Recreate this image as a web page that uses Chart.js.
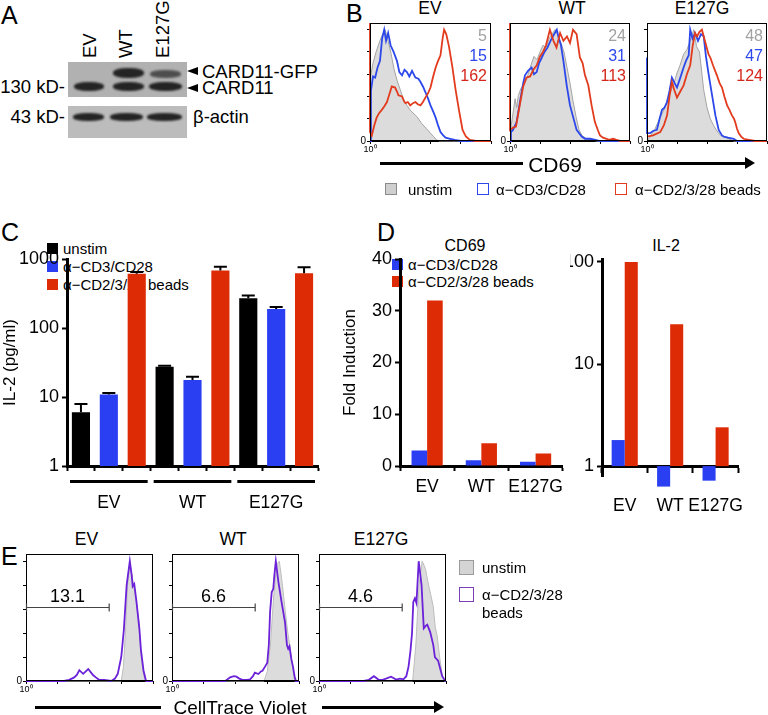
<!DOCTYPE html>
<html>
<head>
<meta charset="utf-8">
<script src="https://cdn.jsdelivr.net/npm/chart.js@4.4.1/dist/chart.umd.min.js"></script>
<style>
  html, body { margin: 0; padding: 0; background: #fff; }
  #fig { position: relative; width: 768px; height: 715px; overflow: hidden;
         font-family: "Liberation Sans", Arial, Helvetica, sans-serif; color: #000; }
  #fig div, #fig canvas { position: absolute; }
  .t { line-height: 1; white-space: nowrap; }
  .band { background: #242424; border-radius: 45%; filter: blur(1.3px); }
</style>
</head>
<body>
<div id="fig"></div>
<script>
const FONT = '"Liberation Sans", Arial, Helvetica, sans-serif';
Chart.defaults.font.family = FONT;
Chart.defaults.color = '#000';

const BLUE = '#2b3ff2';
const RED = '#dd2b05';
const FLOW_BLUE = '#2c48ea';
const FLOW_RED = '#e23b1d';
const PURPLE = '#6b22d8';
const GRAY_FILL = '#dcdcdc';
const GRAY_LINE = '#a4a4a4';

// ---------- data ----------
const lanes = ['EV', 'WT', 'E127G'];

// B: CD69 MFI per condition
const mfiUnstim = [5, 24, 48];
const mfiCd3 = [15, 31, 47];
const mfiBeads = [162, 113, 124];

// B: CD69 histograms, [decade above 10^0, % of max]
const cd69EvUnstim = [[0,0],[0.02,58],[0.1,70],[0.2,80],[0.3,88],[0.4,95],[0.5,100],[0.6,90],[0.7,78],[0.8,64],[0.9,54],[1.0,46],[1.1,38],[1.22,32],[1.35,27],[1.55,22],[1.7,16],[1.9,10],[2.0,7],[2.1,4],[2.2,1],[2.3,0],[4,0]];
const cd69EvCd3 = [[0,0],[0.03,45],[0.1,58],[0.17,57],[0.25,66],[0.33,72],[0.4,92],[0.47,100],[0.53,90],[0.6,97],[0.68,86],[0.78,80],[0.89,72],[0.97,62],[1.06,59],[1.14,64],[1.22,62],[1.3,58],[1.39,63],[1.5,57],[1.6,56],[1.67,53],[1.75,49],[1.83,44],[1.92,38],[2.0,32],[2.08,27],[2.17,21],[2.25,14],[2.33,8],[2.42,5],[2.5,3],[2.65,2],[2.8,1],[3.0,0],[4,0]];
const cd69EvBeads = [[0,106],[0,8],[0.06,5],[0.14,14],[0.22,21],[0.3,25],[0.39,28],[0.47,31],[0.56,35],[0.64,42],[0.72,49],[0.83,48],[0.9,44],[0.94,41],[1.06,40],[1.12,36],[1.17,34],[1.25,35],[1.33,32],[1.42,34],[1.5,35],[1.58,33],[1.67,32],[1.75,35],[1.83,39],[1.92,43],[2.0,48],[2.08,57],[2.17,66],[2.25,72],[2.33,77],[2.4,92],[2.45,100],[2.52,96],[2.61,85],[2.72,67],[2.83,46],[2.94,28],[3.06,10],[3.17,4],[3.3,1],[3.5,0],[4,0]];
const cd69WtUnstim = [[0,0],[0.03,12],[0.1,25],[0.17,38],[0.22,30],[0.28,41],[0.36,47],[0.44,50],[0.55,55],[0.67,66],[0.8,76],[0.9,73],[1.0,80],[1.1,86],[1.2,84],[1.3,92],[1.4,96],[1.5,100],[1.6,95],[1.7,88],[1.8,80],[1.9,66],[2.0,52],[2.1,36],[2.2,22],[2.3,10],[2.4,5],[2.55,2],[2.7,1],[2.9,0],[4,0]];
const cd69WtCd3 = [[0,0],[0.03,8],[0.1,10],[0.22,17],[0.33,35],[0.44,52],[0.5,59],[0.6,63],[0.72,66],[0.8,60],[0.89,62],[0.97,70],[1.06,75],[1.15,80],[1.25,84],[1.35,90],[1.45,95],[1.56,100],[1.62,93],[1.7,86],[1.78,72],[1.89,50],[2.0,32],[2.11,21],[2.22,10],[2.39,4],[2.5,2],[2.67,2],[2.85,1],[3.0,0],[4,0]];
const cd69WtBeads = [[0,106],[0,10],[0.1,12],[0.2,13],[0.33,33],[0.44,49],[0.55,57],[0.67,58],[0.78,64],[0.89,68],[1.0,76],[1.1,80],[1.2,86],[1.33,100],[1.45,90],[1.55,84],[1.67,97],[1.78,90],[1.9,94],[2.0,88],[2.1,100],[2.22,96],[2.33,75],[2.42,70],[2.5,59],[2.61,50],[2.72,32],[2.83,17],[2.94,9],[3.0,5],[3.1,3],[3.22,2],[3.3,1],[3.44,2],[3.55,1],[3.7,0],[4,0]];
const cd69E127gUnstim = [[0,0],[0.1,4],[0.25,10],[0.44,21],[0.6,30],[0.67,37],[0.8,45],[0.9,52],[1.0,61],[1.1,68],[1.22,78],[1.33,82],[1.44,90],[1.56,100],[1.65,85],[1.75,80],[1.89,46],[2.0,30],[2.11,20],[2.22,14],[2.33,9],[2.45,5],[2.56,4],[2.7,2],[2.9,0],[4,0]];
const cd69E127gCd3 = [[0,75],[0,7],[0.1,7],[0.2,9],[0.33,10],[0.42,20],[0.5,28],[0.58,30],[0.67,35],[0.75,45],[0.83,57],[0.92,52],[1.0,48],[1.1,56],[1.22,66],[1.3,72],[1.39,77],[1.44,100],[1.52,92],[1.6,97],[1.7,90],[1.8,96],[1.89,94],[1.97,75],[2.06,59],[2.17,41],[2.28,23],[2.39,10],[2.5,5],[2.56,4],[2.7,3],[2.89,2],[3.0,0],[4,0]];
const cd69E127gBeads = [[0,4],[0.2,5],[0.44,8],[0.56,14],[0.67,23],[0.75,40],[0.83,53],[0.92,45],[1.0,39],[1.1,44],[1.22,50],[1.33,60],[1.44,68],[1.52,85],[1.6,97],[1.67,94],[1.75,98],[1.83,100],[1.95,88],[2.05,78],[2.11,75],[2.2,68],[2.33,59],[2.42,52],[2.5,48],[2.58,40],[2.67,32],[2.75,28],[2.83,23],[2.9,20],[2.94,17],[3.0,11],[3.06,7],[3.14,4],[3.22,2],[3.4,1],[3.6,0],[4,0]];

// C: IL-2 (pg/ml), mean and top of error bar
const il2Unstim = [6.0, 27.5, 270];
const il2UnstimErr = [7.9, 28.3, 295];
const il2Cd3 = [10.9, 17.6, 188];
const il2Cd3Err = [11.4, 19.7, 202];
const il2Beads = [610, 680, 620];
const il2BeadsErr = [650, 770, 760];
const il2Ticks = [1, 10, 100, 1000];

// D: fold induction
const cd69FoldCd3 = [3.0, 1.1, 0.8];
const cd69FoldBeads = [32, 4.4, 2.4];
const il2FoldCd3 = [1.8, 0.63, 0.72];
const il2FoldBeads = [100, 24.5, 2.4];
const il2FoldTicks = [1, 10, 100];

// E: CellTrace Violet histograms
const ctvGatePct = ['13.1', '6.6', '4.6'];
const ctvGateEnd = [2.62, 2.62, 2.62];
const ctvEvUnstim = [[0,0],[3.0,0],[3.07,12],[3.14,45],[3.2,80],[3.27,98],[3.33,90],[3.4,78],[3.48,66],[3.55,50],[3.62,22],[3.7,5],[3.78,0],[4,0]];
const ctvEvBeads = [[0,0],[1.2,0],[1.36,1],[1.52,3],[1.6,5],[1.68,9],[1.8,6],[1.96,10],[2.05,7],[2.11,5],[2.2,3],[2.3,1],[2.46,1],[2.69,0],[2.8,2],[2.89,6],[3.0,20],[3.08,42],[3.17,80],[3.27,100],[3.33,88],[3.36,79],[3.41,81],[3.48,66],[3.57,44],[3.62,26],[3.7,9],[3.78,0],[4,0]];
const ctvWtUnstim = [[0,0],[2.9,0],[3.0,8],[3.1,30],[3.2,70],[3.3,97],[3.38,100],[3.47,82],[3.56,60],[3.65,40],[3.72,28],[3.8,12],[3.86,0],[4,0]];
const ctvWtBeads = [[0,0],[1.68,0],[1.83,3],[1.95,4],[2.03,3.6],[2.12,2],[2.22,1],[2.35,1],[2.46,1.4],[2.55,4],[2.61,7],[2.72,5.8],[2.8,8],[2.85,8.6],[2.93,12],[3.0,15],[3.05,30],[3.09,58],[3.14,74],[3.19,77],[3.23,90],[3.27,100],[3.35,83],[3.45,66],[3.56,49],[3.62,30],[3.66,27],[3.7,29],[3.76,18],[3.81,12],[3.86,4],[3.9,0],[4,0]];
const ctvE127gUnstim = [[0,0],[2.95,0],[3.05,30],[3.15,80],[3.25,100],[3.35,94],[3.45,80],[3.52,72],[3.6,62],[3.66,45],[3.72,38],[3.8,20],[3.88,5],[3.95,0],[4,0]];
const ctvE127gBeads = [[0,0],[1.41,0],[1.57,1],[1.73,4],[1.88,1],[2.0,1],[2.11,2],[2.27,3.6],[2.43,1.2],[2.55,2],[2.66,1.4],[2.75,4],[2.82,12],[2.88,25],[2.93,40],[2.97,66],[3.02,69],[3.07,65],[3.14,100],[3.23,80],[3.3,44],[3.36,46],[3.41,47],[3.5,41],[3.6,30],[3.65,20],[3.75,17],[3.82,10],[3.88,4],[3.98,0],[4,0]];

// ---------- helpers ----------
const fig = document.getElementById('fig');

function txt(s, x, y, size, align = 'left', color = '#000') {
  const d = document.createElement('div');
  d.className = 't';
  d.textContent = s;
  d.style.left = x + 'px';
  d.style.top = (y - size * 0.49) + 'px';
  d.style.fontSize = size + 'px';
  d.style.color = color;
  if (align === 'center') d.style.transform = 'translateX(-50%)';
  if (align === 'right') d.style.transform = 'translateX(-100%)';
  fig.appendChild(d);
  return d;
}

// rotated text reading upwards, caps centred on cx, starting at y = bottom
function vtxt(s, cx, bottom, size) {
  const d = txt(s, cx, bottom, size);
  d.style.top = bottom + 'px';
  d.style.transformOrigin = '0 0';
  d.style.transform = 'rotate(-90deg) translateY(-0.49em)';
  return d;
}

function box(x, y, w, h, css = '') {
  const d = document.createElement('div');
  d.style.cssText = `left:${x}px;top:${y}px;width:${w}px;height:${h}px;${css}`;
  fig.appendChild(d);
  return d;
}

function arrowAxis(x1, x2, x3, x4, y) {
  box(x1, y - 1.5, x2 - x1, 3, 'background:#000');
  box(x3, y - 1.5, x4 - x3 - 8, 3, 'background:#000');
  box(x4 - 10, y - 6.5, 0, 0, 'border-left:10px solid #000;border-top:6.5px solid transparent;border-bottom:6.5px solid transparent');
}

function mkCanvas(left, top, w, h) {
  const c = document.createElement('canvas');
  c.width = w; c.height = h;
  c.style.left = left + 'px'; c.style.top = top + 'px';
  c.style.width = w + 'px'; c.style.height = h + 'px';
  fig.appendChild(c);
  return c;
}

function common() {
  return {
    responsive: false, animation: false, devicePixelRatio: 1,
    plugins: { legend: { display: false }, tooltip: { enabled: false } }
  };
}

const blackGrid = (len, w = 1) => ({ drawOnChartArea: false, tickLength: len, color: '#000', tickColor: '#000', tickWidth: w });

const frame = {
  id: 'frame',
  afterDraw(chart) {
    const { ctx, chartArea: a } = chart;
    ctx.save();
    ctx.strokeStyle = '#000';
    ctx.lineWidth = 1;
    ctx.strokeRect(a.left + 0.5, a.top + 0.5, a.right - a.left - 1, a.bottom - a.top - 1);
    ctx.restore();
  }
};

function histogram(area, series, extra) {
  const [l, t, r, b] = area;
  const padT = 8, padR = 4, yW = 18, xH = 16;
  const c = mkCanvas(l - yW, t - padT, r - l + yW + padR, b - t + padT + xH);
  new Chart(c, {
    type: 'line',
    data: {
      datasets: series.map(s => ({
        data: s.pts.map(p => ({ x: p[0], y: p[1] })),
        borderColor: s.line,
        backgroundColor: s.fill || 'transparent',
        fill: s.fill ? 'origin' : false,
        borderWidth: s.width,
        pointRadius: 0,
        tension: 0,
        clip: 3
      }))
    },
    options: {
      ...common(),
      layout: { padding: { top: padT, right: padR, left: 0, bottom: 0 } },
      scales: {
        x: {
          type: 'linear', min: 0, max: 4,
          afterFit: s => { s.height = xH; },
          ticks: { stepSize: 1, autoSkip: false, maxRotation: 0, padding: 0, font: { size: 9 },
                   callback: v => (v === 0 ? '10\u2070' : '') },
          grid: blackGrid(3),
          border: { color: '#000', width: 1 }
        },
        y: {
          min: 0, max: 106,
          afterFit: s => { s.width = yW; },
          afterBuildTicks: s => { s.ticks = [0, 20, 40, 60, 80, 100].map(v => ({ value: v })); },
          ticks: { padding: 1, font: { size: 10 }, callback: v => (v === 0 ? '0' : '') },
          grid: blackGrid(3),
          border: { color: '#000', width: 1 }
        }
      }
    },
    plugins: [frame, extra]
  });
}

// ---------- A: western blot ----------
txt('A', 1, 15, 25);
lanes.forEach((s, i) => vtxt(s, [89.5, 126, 162.5][i], 58, 18.5));
box(68, 62, 119, 35, 'background:#b1b1b1');
box(68, 106, 119, 32, 'background:#bcbcbc');
[[74, 82, 30, 9, 1], [113, 68, 31, 10, 1], [113, 82, 31, 9, 1], [150, 70, 31, 8, 0.7], [149, 82, 33, 9, 1],
 [73, 113, 31, 8, 1], [110, 113, 33, 8, 1], [147, 113, 35, 8, 1]].forEach(([x, y, w, h, o]) => {
  const d = box(x, y, w, h);
  d.className = 'band';
  d.style.opacity = o;
});
txt('130 kD-', 65, 87, 18.5, 'right');
txt('43 kD-', 65, 117, 18.5, 'right');
box(187, 67, 0, 0, 'border-right:11px solid #000;border-top:4.5px solid transparent;border-bottom:4.5px solid transparent');
box(187, 83.5, 0, 0, 'border-right:11px solid #000;border-top:4.5px solid transparent;border-bottom:4.5px solid transparent');
txt('CARD11-GFP', 202, 72, 18.5);
txt('CARD11', 202, 88.5, 18.5);
txt('\u03b2-actin', 193, 117, 18.5);

// ---------- B: CD69 histograms ----------
txt('B', 346, 13.5, 25);
const bBoxes = [[370, 23, 491, 141], [510, 23, 630, 141], [647, 23, 767, 141]];
const bTitleX = [430, 572, 702];
const bSeries = [
  [cd69EvBeads, cd69EvCd3, cd69EvUnstim],
  [cd69WtBeads, cd69WtCd3, cd69WtUnstim],
  [cd69E127gBeads, cd69E127gCd3, cd69E127gUnstim]
];
lanes.forEach((name, i) => {
  txt(name, bTitleX[i], 9, 17.5, 'center');
  const [beads, cd3, unstim] = bSeries[i];
  histogram(bBoxes[i], [
    { pts: beads, line: FLOW_RED, width: 1.8 },
    { pts: cd3, line: FLOW_BLUE, width: 1.8 },
    { pts: unstim, line: GRAY_LINE, fill: GRAY_FILL, width: 1 }
  ], {
    id: 'mfi',
    afterDraw(chart) {
      const { ctx, chartArea: a } = chart;
      ctx.save();
      ctx.font = '16px ' + FONT;
      ctx.textAlign = 'right';
      ctx.textBaseline = 'middle';
      [[mfiUnstim[i], '#a2a2a2'], [mfiCd3[i], FLOW_BLUE], [mfiBeads[i], '#d4261a']].forEach(([v, col], k) => {
        ctx.fillStyle = col;
        ctx.fillText(String(v), a.right - 4, a.top + 14 + k * 20);
      });
      ctx.restore();
    }
  });
});
arrowAxis(380, 523, 596, 755, 163.5);
txt('CD69', 555, 164, 21, 'center');
box(385, 183, 12, 12, 'box-sizing:border-box;background:#cfcfcf;border:1px solid #8a8a8a');
txt('unstim', 408, 189, 15);
box(477, 183, 12, 12, 'box-sizing:border-box;border:1.5px solid ' + FLOW_BLUE);
txt('\u03b1\u2212CD3/CD28', 496, 189, 15);
box(615, 183, 12, 12, 'box-sizing:border-box;border:1.5px solid ' + FLOW_RED);
txt('\u03b1\u2212CD2/3/28 beads', 635, 189, 15);

// ---------- C: IL-2 bar chart ----------
txt('C', 1, 232, 25);
box(47, 243, 11, 11, 'background:#000');
box(47, 261, 11, 11, 'background:' + BLUE);
box(47, 279, 11, 11, 'background:' + RED);
txt('unstim', 63, 248.5, 15);
txt('\u03b1\u2212CD3/CD28', 63, 266.5, 15);
txt('\u03b1\u2212CD2/3/28 beads', 63, 284.5, 15);

const il2Values = [], il2Errs = [], il2Colors = [];
lanes.forEach((g, i) => {
  il2Values.push(il2Unstim[i], il2Cd3[i], il2Beads[i]);
  il2Errs.push(il2UnstimErr[i], il2Cd3Err[i], il2BeadsErr[i]);
  il2Colors.push('#000', BLUE, RED);
});

const il2ErrorBars = {
  id: 'errs',
  afterDatasetsDraw(chart) {
    const { ctx } = chart;
    const y = chart.scales.y;
    ctx.save();
    ctx.strokeStyle = '#000';
    ctx.lineWidth = 2;
    chart.getDatasetMeta(0).data.forEach((bar, i) => {
      const top = y.getPixelForValue(il2Errs[i]);
      ctx.beginPath();
      ctx.moveTo(bar.x, bar.y);
      ctx.lineTo(bar.x, top);
      ctx.moveTo(bar.x - 6.5, top);
      ctx.lineTo(bar.x + 6.5, top);
      ctx.stroke();
    });
    ctx.restore();
  }
};

const il2GroupAxis = {
  id: 'groups',
  afterDraw(chart) {
    const { ctx } = chart;
    const x = chart.scales.x;
    const base = chart.chartArea.bottom;
    const w = x.getPixelForValue(1) - x.getPixelForValue(0);
    ctx.save();
    ctx.fillStyle = '#000';
    ctx.font = '17.5px ' + FONT;
    ctx.textAlign = 'center';
    ctx.textBaseline = 'middle';
    lanes.forEach((g, i) => {
      const a = x.getPixelForValue(i * 3) - w / 2 + 3;
      const b = x.getPixelForValue(i * 3 + 2) + w / 2 - 3;
      ctx.fillRect(a, base + 14, b - a, 3);
      ctx.fillText(g, (a + b) / 2, base + 37);
    });
    ctx.restore();
  }
};

new Chart(mkCanvas(0, 240, 330, 280), {
  type: 'bar',
  data: {
    labels: il2Values.map(() => ''),
    datasets: [{ data: il2Values, backgroundColor: il2Colors, barPercentage: 0.65, categoryPercentage: 1 }]
  },
  options: {
    ...common(),
    layout: { padding: { top: 19, right: 12, left: 0, bottom: 0 } },
    scales: {
      x: {
        afterFit: s => { s.height = 54; },
        ticks: { display: false },
        grid: { ...blackGrid(5, 2), offset: true },
        border: { color: '#000', width: 3 }
      },
      y: {
        type: 'logarithmic', min: 1, max: 1000,
        afterFit: s => { s.width = 67; },
        afterBuildTicks: s => { s.ticks = il2Ticks.map(v => ({ value: v })); },
        ticks: { font: { size: 18 }, padding: 3, callback: v => String(v) },
        grid: blackGrid(5, 2),
        border: { color: '#000', width: 3 },
        title: { display: true, text: 'IL-2 (pg/ml)', font: { size: 17 }, padding: 0 }
      }
    }
  },
  plugins: [il2ErrorBars, il2GroupAxis]
});

// ---------- D: fold induction ----------
txt('D', 377, 232, 25);
txt('CD69', 465, 246, 16, 'center');
txt('IL-2', 666, 246, 16, 'center');
box(392, 259, 11, 11, 'background:' + BLUE);
box(392, 276, 11, 11, 'background:' + RED);
txt('\u03b1\u2212CD3/CD28', 408, 264.5, 15);
txt('\u03b1\u2212CD2/3/28 beads', 408, 281.5, 15);

new Chart(mkCanvas(340, 240, 230, 270), {
  type: 'bar',
  data: {
    labels: lanes,
    datasets: [
      { data: cd69FoldCd3, backgroundColor: BLUE, barPercentage: 1, categoryPercentage: 0.575 },
      { data: cd69FoldBeads, backgroundColor: RED, barPercentage: 1, categoryPercentage: 0.575 }
    ]
  },
  options: {
    ...common(),
    layout: { padding: { top: 19, right: 7, left: 0, bottom: 0 } },
    scales: {
      x: {
        afterFit: s => { s.height = 44; },
        ticks: { font: { size: 17.5 }, padding: 6, maxRotation: 0, autoSkip: false },
        grid: { ...blackGrid(5, 2), offset: true },
        border: { color: '#000', width: 3 }
      },
      y: {
        min: 0, max: 40,
        afterFit: s => { s.width = 60; },
        ticks: { stepSize: 10, font: { size: 18 }, padding: 3 },
        grid: blackGrid(5, 2),
        border: { color: '#000', width: 3 },
        title: { display: true, text: 'Fold Induction', font: { size: 17 }, padding: 0 }
      }
    }
  }
});

new Chart(mkCanvas(570, 240, 198, 280), {
  type: 'bar',
  data: {
    labels: lanes,
    datasets: [
      { data: il2FoldCd3.map(v => [1, v]), backgroundColor: BLUE, barPercentage: 1, categoryPercentage: 0.575, clip: false },
      { data: il2FoldBeads.map(v => [1, v]), backgroundColor: RED, barPercentage: 1, categoryPercentage: 0.575, clip: false }
    ]
  },
  options: {
    ...common(),
    layout: { padding: { top: 19, right: 1, left: 0, bottom: 44 } },
    scales: {
      x: {
        position: { y: 1 },
        ticks: { font: { size: 17.5 }, padding: 25, maxRotation: 0, autoSkip: false },
        grid: { ...blackGrid(5, 2), offset: true },
        border: { color: '#000', width: 3 }
      },
      y: {
        type: 'logarithmic', min: 0.8, max: 107,
        afterFit: s => { s.width = 32; },
        afterBuildTicks: s => { s.ticks = il2FoldTicks.map(v => ({ value: v })); },
        ticks: { font: { size: 18 }, padding: 3, callback: v => String(v) },
        grid: blackGrid(5, 2),
        border: { color: '#000', width: 3 }
      }
    }
  }
});

// ---------- E: CellTrace Violet ----------
txt('E', 1, 556, 25);
const eBoxes = [[26, 554, 153, 681], [172, 554, 299, 681], [319, 554, 446, 681]];
const eTitleX = [86.5, 233, 381];
const eSeries = [[ctvEvBeads, ctvEvUnstim], [ctvWtBeads, ctvWtUnstim], [ctvE127gBeads, ctvE127gUnstim]];
lanes.forEach((name, i) => {
  txt(name, eTitleX[i], 540, 17.5, 'center');
  histogram(eBoxes[i], [
    { pts: eSeries[i][0], line: PURPLE, width: 1.8 },
    { pts: eSeries[i][1], line: '#bdbdbd', fill: GRAY_FILL, width: 1 }
  ], {
    id: 'gate',
    afterDraw(chart) {
      const { ctx } = chart;
      const x = chart.scales.x, y = chart.scales.y;
      const x0 = x.getPixelForValue(0), x1 = x.getPixelForValue(ctvGateEnd[i]);
      const gy = Math.round(y.getPixelForValue(62)) + 0.5;
      ctx.save();
      ctx.strokeStyle = '#444';
      ctx.lineWidth = 1.2;
      ctx.beginPath();
      ctx.moveTo(x0, gy); ctx.lineTo(x1, gy);
      ctx.moveTo(x0 + 0.5, gy - 4); ctx.lineTo(x0 + 0.5, gy + 4);
      ctx.moveTo(x1, gy - 4); ctx.lineTo(x1, gy + 4);
      ctx.stroke();
      ctx.fillStyle = '#000';
      ctx.font = '18px ' + FONT;
      ctx.textAlign = 'center';
      ctx.textBaseline = 'middle';
      ctx.fillText(ctvGatePct[i], (x0 + x1) / 2, gy - 10.5);
      ctx.restore();
    }
  });
});
box(459, 560, 15, 15, 'box-sizing:border-box;background:#d4d4d4;border:1px solid #9a9a9a');
txt('unstim', 482, 567.5, 15);
box(459, 587, 15, 15, 'box-sizing:border-box;border:1.5px solid #7b3fb5');
txt('\u03b1\u2212CD2/3/28', 482, 594.5, 15);
txt('beads', 482, 612.5, 15);
arrowAxis(35, 161, 322, 444, 707);
txt('CellTrace Violet', 240, 707, 19, 'center');
</script>
</body>
</html>
